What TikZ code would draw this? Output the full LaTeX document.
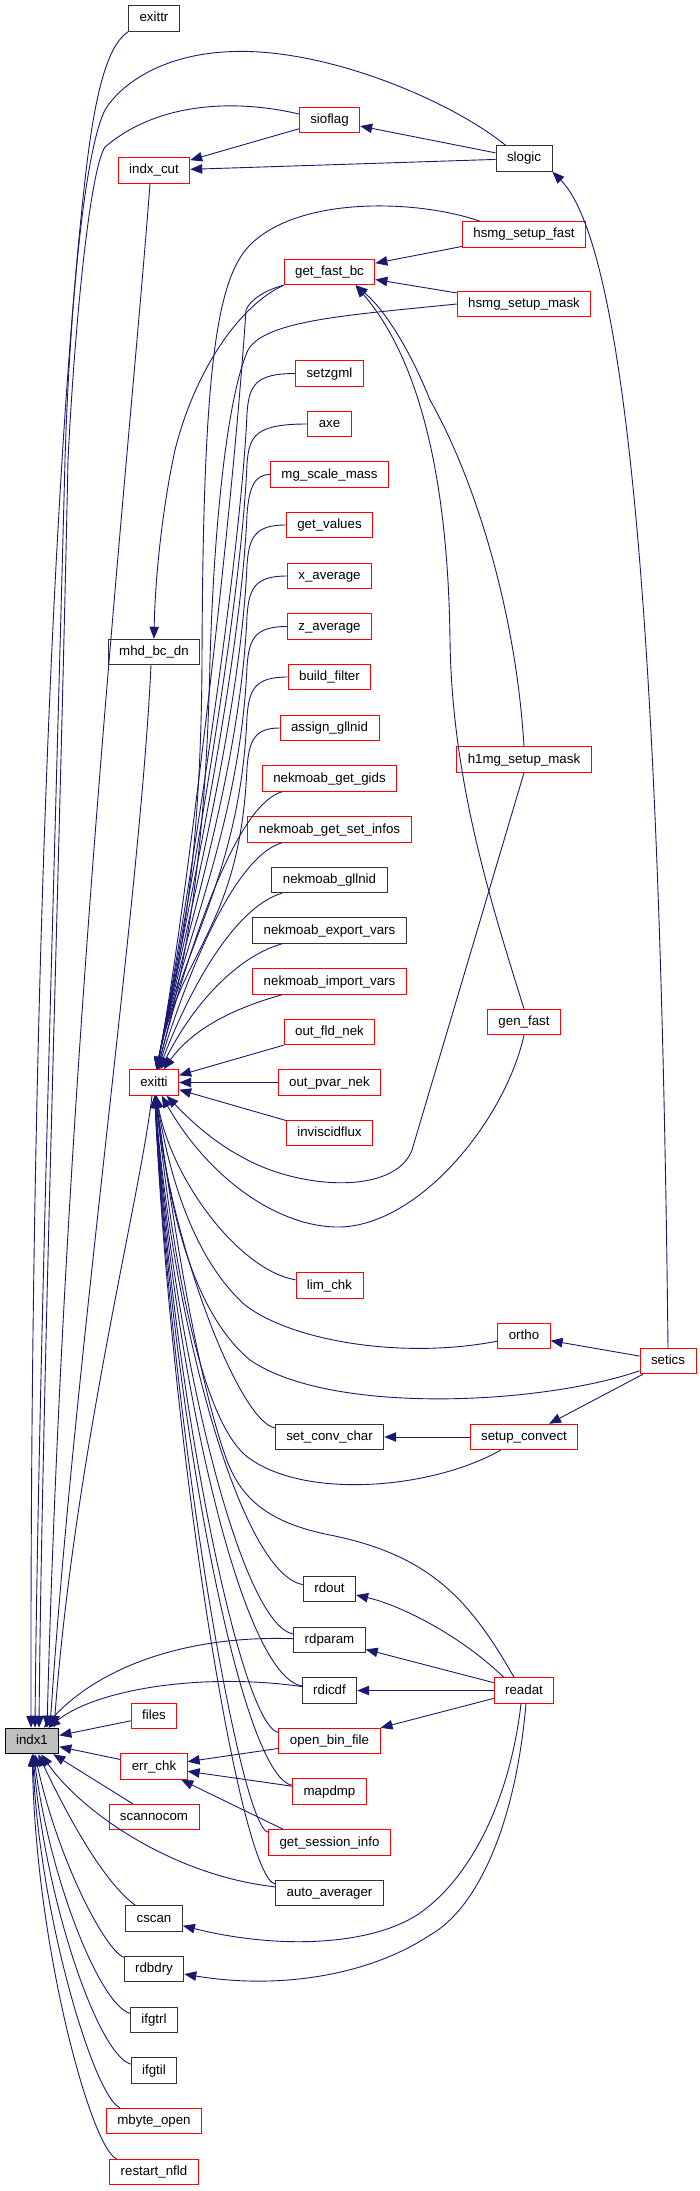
\documentclass[tikz,border=0pt]{standalone}
\usepackage{fontspec}
\setmainfont{Liberation Sans}
\usetikzlibrary{arrows.meta}
\definecolor{edgeblue}{HTML}{191970}
\definecolor{nodered}{HTML}{FF0000}
\definecolor{nodegray}{HTML}{BFBFBF}
\newcommand{\fnsize}{\fontsize{13.3}{16}\selectfont}

\begin{document}
\begin{tikzpicture}[x=1pt,y=-1pt,
  fn/.style={draw=nodered,fill=white,line width=0.9pt,font=\fnsize,inner xsep=11pt,inner ysep=0pt,
             minimum height=25.6pt,text height=10pt,text depth=3pt},
  fnb/.style={fn,draw=black!80},
  root/.style={fn,draw=black,fill=nodegray},
  arr/.style={-{Triangle[length=12pt,width=9.5pt]},draw=edgeblue,line width=0.9pt}]
  \useasboundingbox (0,0) rectangle (699,2191);
  % ---- root
  \node[root] (indx1) at (32,1741) {indx1};
  % ---- direct callers (x = 154)
  \node[fnb] (exittr)       at (154,18.5)  {exittr};
  \node[fn]  (indx_cut)     at (154,170.5) {indx\_cut};
  \node[fnb] (mhd_bc_dn)    at (154,652)   {mhd\_bc\_dn};
  \node[fn]  (exitti)       at (154,1082.5) {exitti};
  \node[fn]  (files)        at (154,1716)  {files};
  \node[fn]  (err_chk)      at (154,1766.5) {err\_chk};
  \node[fn]  (scannocom)    at (154,1817)  {scannocom};
  \node[fnb] (cscan)        at (154,1918.5) {cscan};
  \node[fnb] (rdbdry)       at (154,1969)  {rdbdry};
  \node[fnb] (ifgtrl)       at (154,2020)  {ifgtrl};
  \node[fnb] (ifgtil)       at (154,2070.5) {ifgtil};
  \node[fn]  (mbyte_open)   at (154,2121)  {mbyte\_open};
  \node[fn]  (restart_nfld) at (154,2172)  {restart\_nfld};
  % ---- second level (x = 329.5)
  \node[fn]  (sioflag)      at (329.5,120)  {sioflag};
  \node[fn]  (get_fast_bc)  at (329.5,272)  {get\_fast\_bc};
  \node[fn]  (setzgml)      at (329.5,373.5) {setzgml};
  \node[fn]  (axe)          at (329.5,424)  {axe};
  \node[fn]  (mg_scale_mass) at (329.5,474.5) {mg\_scale\_mass};
  \node[fn]  (get_values)   at (329.5,525)  {get\_values};
  \node[fn]  (x_average)    at (329.5,576)  {x\_average};
  \node[fn]  (z_average)    at (329.5,626.5) {z\_average};
  \node[fn]  (build_filter) at (329.5,677)  {build\_filter};
  \node[fn]  (assign_gllnid) at (329.5,728) {assign\_gllnid};
  \node[fn]  (nekmoab_get_gids) at (329.5,778.5) {nekmoab\_get\_gids};
  \node[fn]  (nekmoab_get_set_infos) at (329.5,829.5) {nekmoab\_get\_set\_infos};
  \node[fnb] (nekmoab_gllnid) at (329.5,880) {nekmoab\_gllnid};
  \node[fnb] (nekmoab_export_vars) at (329.5,930.5) {nekmoab\_export\_vars};
  \node[fn]  (nekmoab_import_vars) at (329.5,981.5) {nekmoab\_import\_vars};
  \node[fn]  (out_fld_nek)  at (329.5,1032) {out\_fld\_nek};
  \node[fn]  (out_pvar_nek) at (329.5,1082.5) {out\_pvar\_nek};
  \node[fn]  (inviscidflux) at (329.5,1133) {inviscidflux};
  \node[fn]  (lim_chk)      at (329.5,1285.5) {lim\_chk};
  \node[fnb] (set_conv_char) at (329.5,1437) {set\_conv\_char};
  \node[fnb] (rdout)        at (329.5,1589) {rdout};
  \node[fnb] (rdparam)      at (329.5,1640) {rdparam};
  \node[fnb] (rdicdf)       at (329.5,1690.5) {rdicdf};
  \node[fn]  (open_bin_file) at (329.5,1741) {open\_bin\_file};
  \node[fn]  (mapdmp)       at (329.5,1791.5) {mapdmp};
  \node[fn]  (get_session_info) at (329.5,1842.5) {get\_session\_info};
  \node[fnb] (auto_averager) at (329.5,1893) {auto\_averager};
  % ---- third level (x = 524)
  \node[fnb] (slogic)       at (524,158.5) {slogic};
  \node[fn]  (hsmg_setup_fast) at (524,234.5) {hsmg\_setup\_fast};
  \node[fn]  (hsmg_setup_mask) at (524,304) {hsmg\_setup\_mask};
  \node[fn]  (h1mg_setup_mask) at (524,759.5) {h1mg\_setup\_mask};
  \node[fn]  (gen_fast)     at (524,1022) {gen\_fast};
  \node[fn]  (ortho)        at (524,1336) {ortho};
  \node[fn]  (setup_convect) at (524,1437) {setup\_convect};
  \node[fn]  (readat)       at (524,1690.5) {readat};
  \node[fn]  (setics)       at (668,1361) {setics};
  % ---- long edges into indx1 from the top
  \draw[arr] (exittr.south west) .. controls (108,45) and (95,90) .. (85,180)
             .. controls (55,450) and (30,1000) .. ([xshift=-1pt]indx1.north);
  \draw[arr] ([xshift=10pt]slogic.north west) .. controls (450,100) and (320,45) .. (224,52)
             .. controls (160,56) and (120,85) .. (105,110)
             .. controls (85,150) and (70,300) .. (65,460)
             .. controls (55,850) and (38,1400) .. ([xshift=3pt]indx1.north);
  \draw[arr] ([yshift=6pt]sioflag.west) .. controls (240,100) and (160,100) .. (105,147)
             .. controls (90,170) and (75,320) .. (68,460)
             .. controls (60,850) and (42,1400) .. ([xshift=7pt]indx1.north);
  \draw[arr] ([xshift=-4pt]indx_cut.south) .. controls (130,450) and (65,1050) .. ([xshift=15pt]indx1.north);
  \draw[arr] ([xshift=-3pt]mhd_bc_dn.south) .. controls (140,900) and (75,1350) .. ([xshift=18pt]indx1.north);
  \draw[arr] ([xshift=-2pt]exitti.south) .. controls (140,1200) and (75,1450) .. ([xshift=22pt]indx1.north);
  % ---- top cluster
  \draw[arr] (sioflag) -- (indx_cut);
  \draw[arr] (slogic) -- (indx_cut);
  \draw[arr] (slogic) -- (sioflag);
  \draw[arr] (setics.north) .. controls (662,800) and (640,260) .. (slogic.south east);
  \draw[arr] (hsmg_setup_fast) -- (get_fast_bc);
  \draw[arr] (hsmg_setup_mask) -- (get_fast_bc);
  \draw[arr] (h1mg_setup_mask.north) .. controls (515,600) and (470,470) .. (430,400)
             .. controls (410,350) and (385,310) .. (get_fast_bc.-27);
  \draw[arr] (gen_fast.north) .. controls (490,900) and (452,780) .. (450,640)
             .. controls (448,480) and (420,360) .. (get_fast_bc.-27);
  \draw[arr] (get_fast_bc.south west) .. controls (240,305) and (195,370) .. (175,450)
             .. controls (162,510) and (155,580) .. (mhd_bc_dn.north);
  % ---- into exitti from above
  \draw[arr] ([xshift=18pt]hsmg_setup_fast.north west) .. controls (420,200) and (300,195) .. (250,245)
             .. controls (215,280) and (203,380) .. (202,660)
             .. controls (201,900) and (170,1000) .. (exitti);
  \draw[arr] (hsmg_setup_mask.west) .. controls (350,315) and (265,320) .. (248,350)
             .. controls (230,390) and (215,500) .. (210,660)
             .. controls (205,900) and (175,1000) .. (exitti);
  \draw[arr] (get_fast_bc.south west) .. controls (265,290) and (250,300) .. (246,310)
             .. controls (230,550) and (180,950) .. (exitti);
  \foreach \n/\y in {setzgml/373.5,axe/424,mg_scale_mass/474.5,get_values/525,
                     x_average/576,z_average/626.5,build_filter/677,assign_gllnid/728}
    \draw[arr] (\n.west) .. controls (255,\y) and (249,\y+12) .. (247,\y+40)
               .. controls (240,\y+200) and (180,950) .. (exitti);
  \foreach \n/\y in {nekmoab_get_gids/778.5,nekmoab_get_set_infos/829.5,nekmoab_gllnid/880,
                     nekmoab_export_vars/930.5,nekmoab_import_vars/981.5}
    \draw[arr] (\n) .. controls (240,\y+25) and (195,{535+0.5*\y}) .. (exitti);
  \draw[arr] (out_fld_nek) -- (exitti);
  \draw[arr] (out_pvar_nek) -- (exitti);
  \draw[arr] (inviscidflux) -- (exitti);
  % ---- into exitti from below
  \draw[arr] (h1mg_setup_mask.south) -- (412,1150) .. controls (395,1195) and (300,1190) .. (242,1157)
             .. controls (210,1140) and (185,1115) .. (exitti);
  \draw[arr] (gen_fast.south) .. controls (505,1120) and (420,1225) .. (340,1227)
             .. controls (280,1228) and (210,1180) .. (exitti);
  \draw[arr] (ortho) .. controls (400,1360) and (290,1340) .. (245,1305)
             .. controls (195,1260) and (170,1180) .. (exitti);
  \draw[arr] (setics) .. controls (540,1405) and (330,1415) .. (250,1360)
             .. controls (190,1310) and (168,1200) .. (exitti);
  \draw[arr] (setup_convect) .. controls (430,1490) and (300,1500) .. (245,1455)
             .. controls (195,1410) and (170,1230) .. (exitti);
  \draw[arr] ([xshift=-10pt]readat.north) .. controls (470,1600) and (430,1555) .. (330,1535)
             .. controls (270,1523) and (240,1500) .. (225,1455)
             .. controls (195,1370) and (170,1200) .. (exitti);
  \foreach \n/\y in {lim_chk/1285.5,set_conv_char/1437,rdout/1589,rdparam/1640,rdicdf/1690.5,
                     open_bin_file/1741,mapdmp/1791.5,get_session_info/1842.5,auto_averager/1893}
    \draw[arr] (\n) .. controls (240,\y-15) and (172,{1096+0.45*(\y-1096)}) .. (exitti);
  % ---- right side callers
  \draw[arr] (setics) -- (ortho);
  \draw[arr] (setics) -- (setup_convect);
  \draw[arr] (setup_convect) -- (set_conv_char);
  \draw[arr] ([xshift=10pt]readat.north west) .. controls (460,1635) and (400,1605) .. (rdout);
  \draw[arr] (readat) -- (rdparam);
  \draw[arr] (readat) -- (rdicdf);
  \draw[arr] (readat) -- (open_bin_file);
  \draw[arr] ([xshift=-3pt]readat.south) .. controls (510,1800) and (470,1880) .. (417,1915)
             .. controls (370,1945) and (280,1950) .. (cscan);
  \draw[arr] ([xshift=2pt]readat.south) .. controls (515,1830) and (475,1910) .. (430,1935)
             .. controls (370,1975) and (280,1990) .. (rdbdry);
  % ---- err_chk callers
  \draw[arr] (open_bin_file) -- (err_chk);
  \draw[arr] (mapdmp) -- (err_chk);
  \draw[arr] ([xshift=15pt]get_session_info.north west) -- (err_chk);
  % ---- the rest into indx1
  \draw[arr] (rdparam) .. controls (190,1635) and (100,1665) .. (indx1);
  \draw[arr] (rdicdf) .. controls (200,1672) and (95,1690) .. (indx1);
  \draw[arr] (auto_averager) .. controls (170,1875) and (80,1810) .. (indx1);
  \draw[arr] (files) -- (indx1);
  \draw[arr] (err_chk) -- (indx1);
  \draw[arr] (scannocom) -- (indx1);
  \draw[arr] (cscan) .. controls (100,1880) and (60,1800) .. (indx1);
  \draw[arr] (rdbdry) .. controls (105,1950) and (58,1860) .. (indx1);
  \draw[arr] (ifgtrl) .. controls (100,2005) and (50,1880) .. (indx1);
  \draw[arr] (ifgtil) .. controls (98,2055) and (45,1900) .. (indx1);
  \draw[arr] (mbyte_open) .. controls (95,2098) and (40,1920) .. (indx1);
  \draw[arr] (restart_nfld) .. controls (92,2150) and (36,1950) .. (indx1);
\end{tikzpicture}
\end{document}
